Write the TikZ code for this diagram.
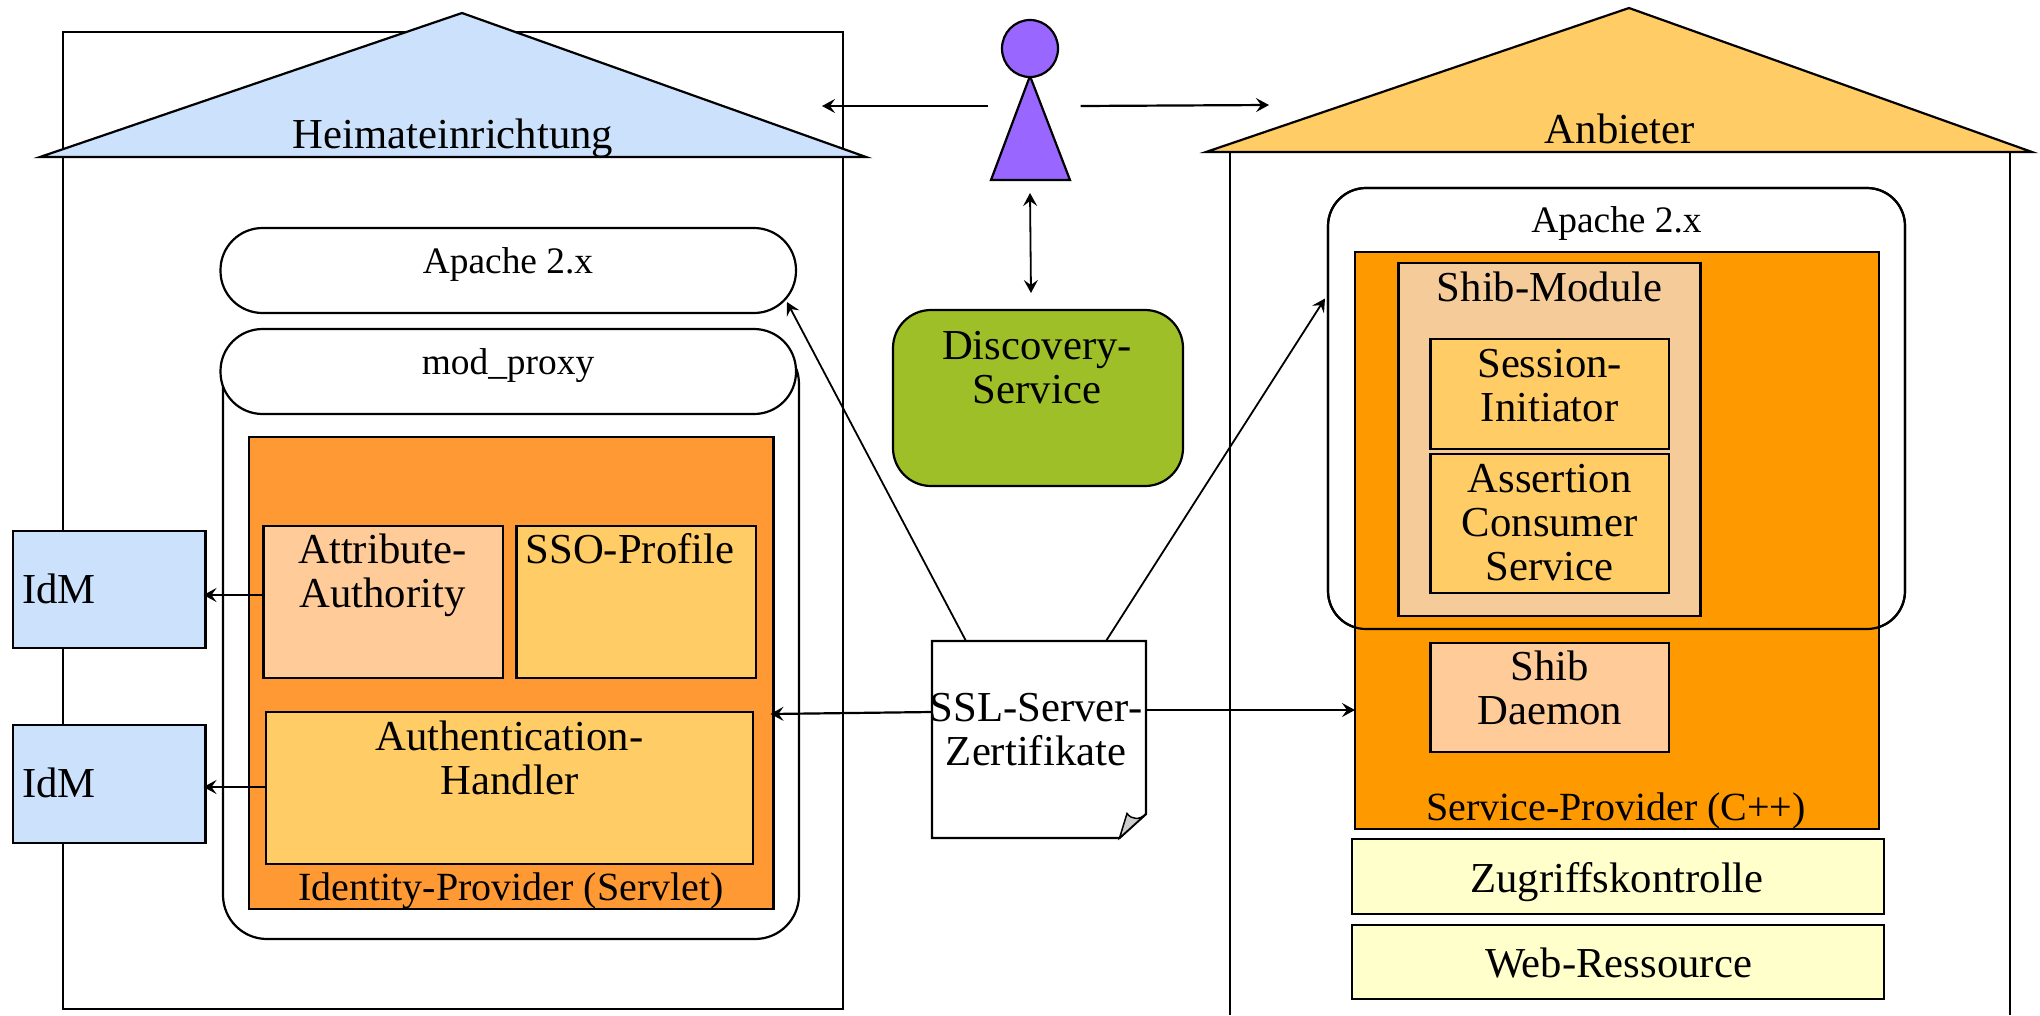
\documentclass[tikz,border=0pt]{standalone}
\usepackage{fontspec}
\setmainfont{Liberation Serif}
\usetikzlibrary{arrows.meta,calc,shapes.geometric}
\newcommand\boxat[6]{\node[#2,minimum width={#5-#3},minimum height={#6-#4}] (#1) at ({(#3+#5)/2},{(#4+#6)/2}) {};}
\tikzset{
  frame/.style={draw=black,line width=2.2pt,inner sep=0pt,outer sep=0pt},
  wall/.style={draw=black,line width=1.8pt},
  pill/.style={frame,rounded corners=38pt},
  big/.style={font=\fontsize{42.7}{44}\selectfont,align=center,inner sep=0pt,outer sep=0pt,anchor=base,yshift=-0.7pt},
  prov/.style={font=\fontsize{40}{44}\selectfont,align=center,inner sep=0pt,outer sep=0pt,anchor=base},
  small/.style={font=\fontsize{37.4}{41}\selectfont,align=center,inner sep=0pt,outer sep=0pt,anchor=base},
  conn/.style={draw=black,line width=2.2pt,-{Stealth[length=13pt,width=14pt,inset=5pt]}},
  conntwo/.style={draw=black,line width=1.8pt,{Stealth[length=13pt,width=14pt,inset=5pt]}-{Stealth[length=13pt,width=14pt,inset=5pt]}},
  thin conn/.style={conn,line width=1.8pt},
}
\definecolor{lblue}{HTML}{CCE1FC}
\definecolor{roofor}{HTML}{FFCC66}
\definecolor{violet}{HTML}{9966FF}
\definecolor{dgreen}{HTML}{9FBF28}
\definecolor{idp}{HTML}{FF9933}
\definecolor{peach}{HTML}{FFCC99}
\definecolor{sp}{HTML}{FF9900}
\definecolor{mod}{HTML}{F5CC99}
\definecolor{pale}{HTML}{FFFFCC}
\begin{document}
\begin{tikzpicture}[x=1pt,y=-1pt]
\useasboundingbox (0,0) rectangle (2040,1015);
\fill[white] (0,0) rectangle (2040,1015);
% left building
\boxat{home}{frame,line width=1.8pt}{63}{32}{843}{1009}
\draw[frame,fill=lblue] (462,13) -- (866,157) -- (40,157) -- cycle;
\node[big] (homet) at (453,147.7) {Heimateinrichtung};
% right building
\draw[wall] (1230,152) -- (1230,1015);
\draw[wall] (2010,152) -- (2010,1015);
\draw[frame,fill=roofor] (1629,8) -- (2032,152) -- (1206,152) -- cycle;
\node[big] (anbt) at (1619.5,143) {Anbieter};
% left stack
\boxat{outer}{pill,rounded corners=44pt,fill=white}{223}{340}{799}{939}
\boxat{apl}{pill,rounded corners=42pt,fill=white}{220.5}{228}{796}{313}
\boxat{prox}{pill,rounded corners=42pt,fill=white}{220.5}{329}{796}{414}
\node[small] (aplt) at (508,273) {Apache 2.x};
\node[small] (proxt) at (508,374) {mod\_proxy};
\boxat{idp}{frame,fill=idp}{249}{437}{773.5}{909}
\boxat{aa}{frame,fill=peach}{263.5}{526}{503}{678}
\boxat{sso}{frame,fill=roofor}{516.5}{526}{756}{678}
\boxat{ah}{frame,fill=roofor}{266}{712}{753}{864}
\node[big] (aat) at (382.6,607) {Attribute-\\Authority};
\node[big] (ssot) at (630,563) {SSO-Profile};
\node[big] (aht) at (509.5,794) {Authentication-\\Handler};
\node[prov] (idpt) at (511,900) {Identity-Provider (Servlet)};
% IdM
\boxat{idma}{frame,fill=lblue}{13}{531}{205.5}{648}
\boxat{idmb}{frame,fill=lblue}{13}{725}{205.5}{843}
\node[big] (idmat) at (59,603) {IdM};
\node[big] (idmbt) at (59,797) {IdM};
% right stack
\boxat{apr}{pill,fill=white}{1328}{188}{1905}{629}
\boxat{spb}{frame,fill=sp}{1355}{252}{1879}{829}
\draw[pill] (apr.south west) rectangle (apr.north east);
\node[small] (aprt) at (1616.5,232) {Apache 2.x};
\boxat{modb}{frame,fill=mod}{1398.5}{263}{1700.5}{616}
\node[big] (modt) at (1549.6,300.7) {Shib-Module};
\boxat{si}{frame,fill=roofor}{1430.5}{339}{1669}{449}
\node[big] (sit) at (1549.6,421) {Session-\\Initiator};
\boxat{acs}{frame,fill=roofor}{1430.5}{454}{1669}{593}
\node[big] (acst) at (1549.6,580) {Assertion\\Consumer\\Service};
\boxat{dae}{frame,fill=peach}{1430.5}{643}{1669}{752}
\node[big] (daet) at (1549.6,724) {Shib\\Daemon};
\node[prov] (spt) at (1616,820) {Service-Provider (C++)};
\boxat{zug}{frame,fill=pale}{1352}{839}{1884}{914}
\node[big] (zugt) at (1617,892) {Zugriffskontrolle};
\boxat{web}{frame,fill=pale}{1352}{925}{1884}{999}
\node[big] (webt) at (1618.5,977) {Web-Ressource};
% discovery
\boxat{disc}{pill,fill=dgreen}{893}{310}{1183}{486}
\node[big] (disct) at (1037,403) {Discovery-\\Service};
% person
\draw[frame,fill=violet] (1030,76) -- (1070,180) -- (991,180) -- cycle;
\node[frame,fill=violet,ellipse,minimum width=56pt,minimum height=57pt] (head) at (1030,48.5) {};
\coordinate (bodyb) at (1030,193);
% certificate
\boxat{ssl}{inner sep=0pt,outer sep=0pt}{932}{641}{1146}{838}
\draw[frame,fill=white] (ssl.north west) -- (ssl.north east) -- (1146,814) -- (1119.5,838) -- (ssl.south west) -- cycle;
\draw[frame,line width=1.5pt,fill=black!20] (1119.5,838) -- (1127,813.5) .. controls (1132,820) and (1140,820) .. (1146,814) -- cycle;
\node[big] (sslt) at (1036,765) {SSL-Server-\\Zertifikate};
% connectors
\draw[conn] ([yshift=7pt]aa.west) -- ([yshift=-5.5pt,xshift=-2pt]idma.east);
\draw[conn] ([yshift=1pt]ah.west) -- ([yshift=-3pt,xshift=-2pt]idmb.east);
\draw[conn] ([yshift=27.5pt]ssl.west) -- ([yshift=-41pt,xshift=-3pt]idp.east);
\draw[conn] ([yshift=29.5pt]ssl.east) -- ([yshift=-169.5pt]spb.west);
\draw[thin conn] ([xshift=-73pt]ssl.north) -- ([xshift=-9pt,yshift=-31.5pt]apl.east);
\draw[thin conn] ([xshift=67pt]ssl.north) -- ([yshift=110pt,xshift=-3pt]apr.west);
\coordinate (homeport) at (822,106);
\coordinate (anbport) at (1269,105);
\draw[conn] (988,106) -- (homeport);
\draw[conn] (1080.5,106) -- (anbport);
\draw[conntwo] (bodyb) -- ([xshift=-7pt,yshift=17pt]disc.north);
\end{tikzpicture}
\end{document}
